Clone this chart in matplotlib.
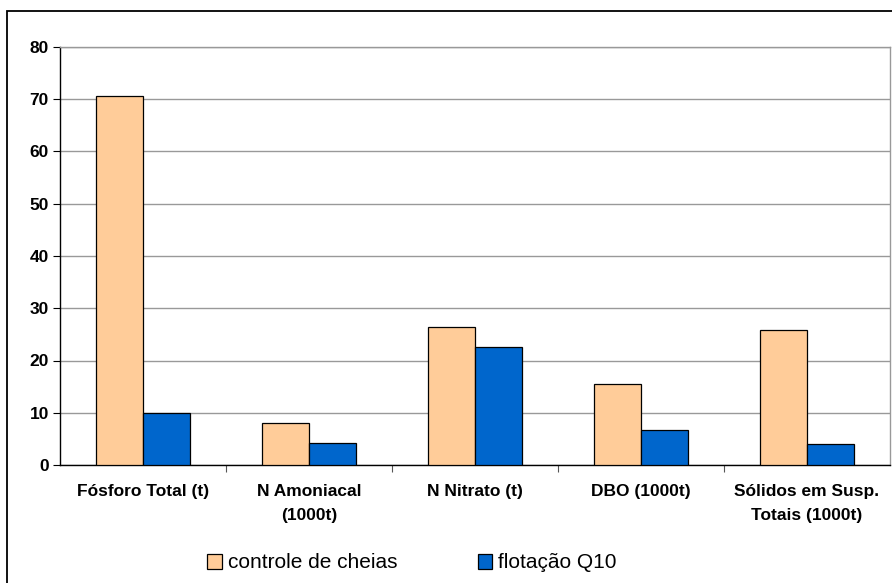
import numpy as np
import matplotlib.pyplot as plt
import matplotlib as mpl
from matplotlib.patches import Rectangle, Patch

mpl.rcParams.update({"font.family": ["Liberation Sans", "DejaVu Sans"]})

categorias = ["Fósforo Total (t)", "N Amoniacal\n(1000t)", "N Nitrato (t)",
              "DBO (1000t)", "Sólidos em Susp.\nTotais (1000t)"]
controle = [70.7, 8.0, 26.4, 15.5, 25.8]
flotacao = [9.9, 4.2, 22.6, 6.7, 4.0]
series = ["controle de cheias", "flotação Q10"]
cores = ["#FFCC99", "#0066CC"]

W, H = 892, 583
fig = plt.figure(figsize=(W / 100, H / 100), dpi=100)

# chart frame, cut at the right and bottom edges
fig.patches.append(Rectangle((7 / W, -0.1), 1.2, 1 - 11 / H + 0.1,
                             transform=fig.transFigure, fill=False,
                             edgecolor="black", lw=1.3))

ax = fig.add_axes([60 / W, 1 - 465 / H, (890 - 60) / W, (465 - 47) / H])
x = np.arange(len(categorias))
bw = 0.285
ax.bar(x - bw / 2, controle, bw, color=cores[0], edgecolor="black", lw=0.9, zorder=3)
ax.bar(x + bw / 2, flotacao, bw, color=cores[1], edgecolor="black", lw=0.9, zorder=3)

ax.set_xlim(-0.5, len(categorias) - 0.5)
ax.set_ylim(0, 80)
ax.set_yticks(range(0, 81, 10))
ax.tick_params(axis="y", direction="out", length=5, width=0.8, labelsize=12.5, pad=3)
for lb in ax.get_yticklabels():
    lb.set_fontweight("bold")

ax.set_xticks(np.arange(0.5, len(categorias) - 0.5), minor=False)
ax.set_xticks(x, minor=True)
ax.set_xticklabels([], minor=False)
ax.set_xticklabels(categorias, minor=True, fontweight="bold", fontsize=12.5,
                   linespacing=1.75)
ax.tick_params(axis="x", which="major", direction="out", length=5, width=0.8, colors="#555555")
ax.tick_params(axis="x", which="minor", length=0, pad=14)

ax.yaxis.grid(True, color="#999999", lw=1.0, zorder=0)
ax.set_axisbelow(True)
ax.spines["left"].set_color("black")
ax.spines["bottom"].set_color("black")
ax.spines["top"].set_color("#999999")
ax.spines["right"].set_color("#999999")
for s in ax.spines.values():
    s.set_linewidth(1.0)

handles = [Patch(facecolor=c, edgecolor="black", lw=0.9) for c in cores]
fig.legend(handles, series, loc="center", bbox_to_anchor=(412 / W, 1 - 563 / H),
           ncol=2, frameon=False, fontsize=15, handlelength=0.7, handleheight=0.7,
           handletextpad=0.3, columnspacing=3.85)

fig.savefig("out.png", dpi=100)
